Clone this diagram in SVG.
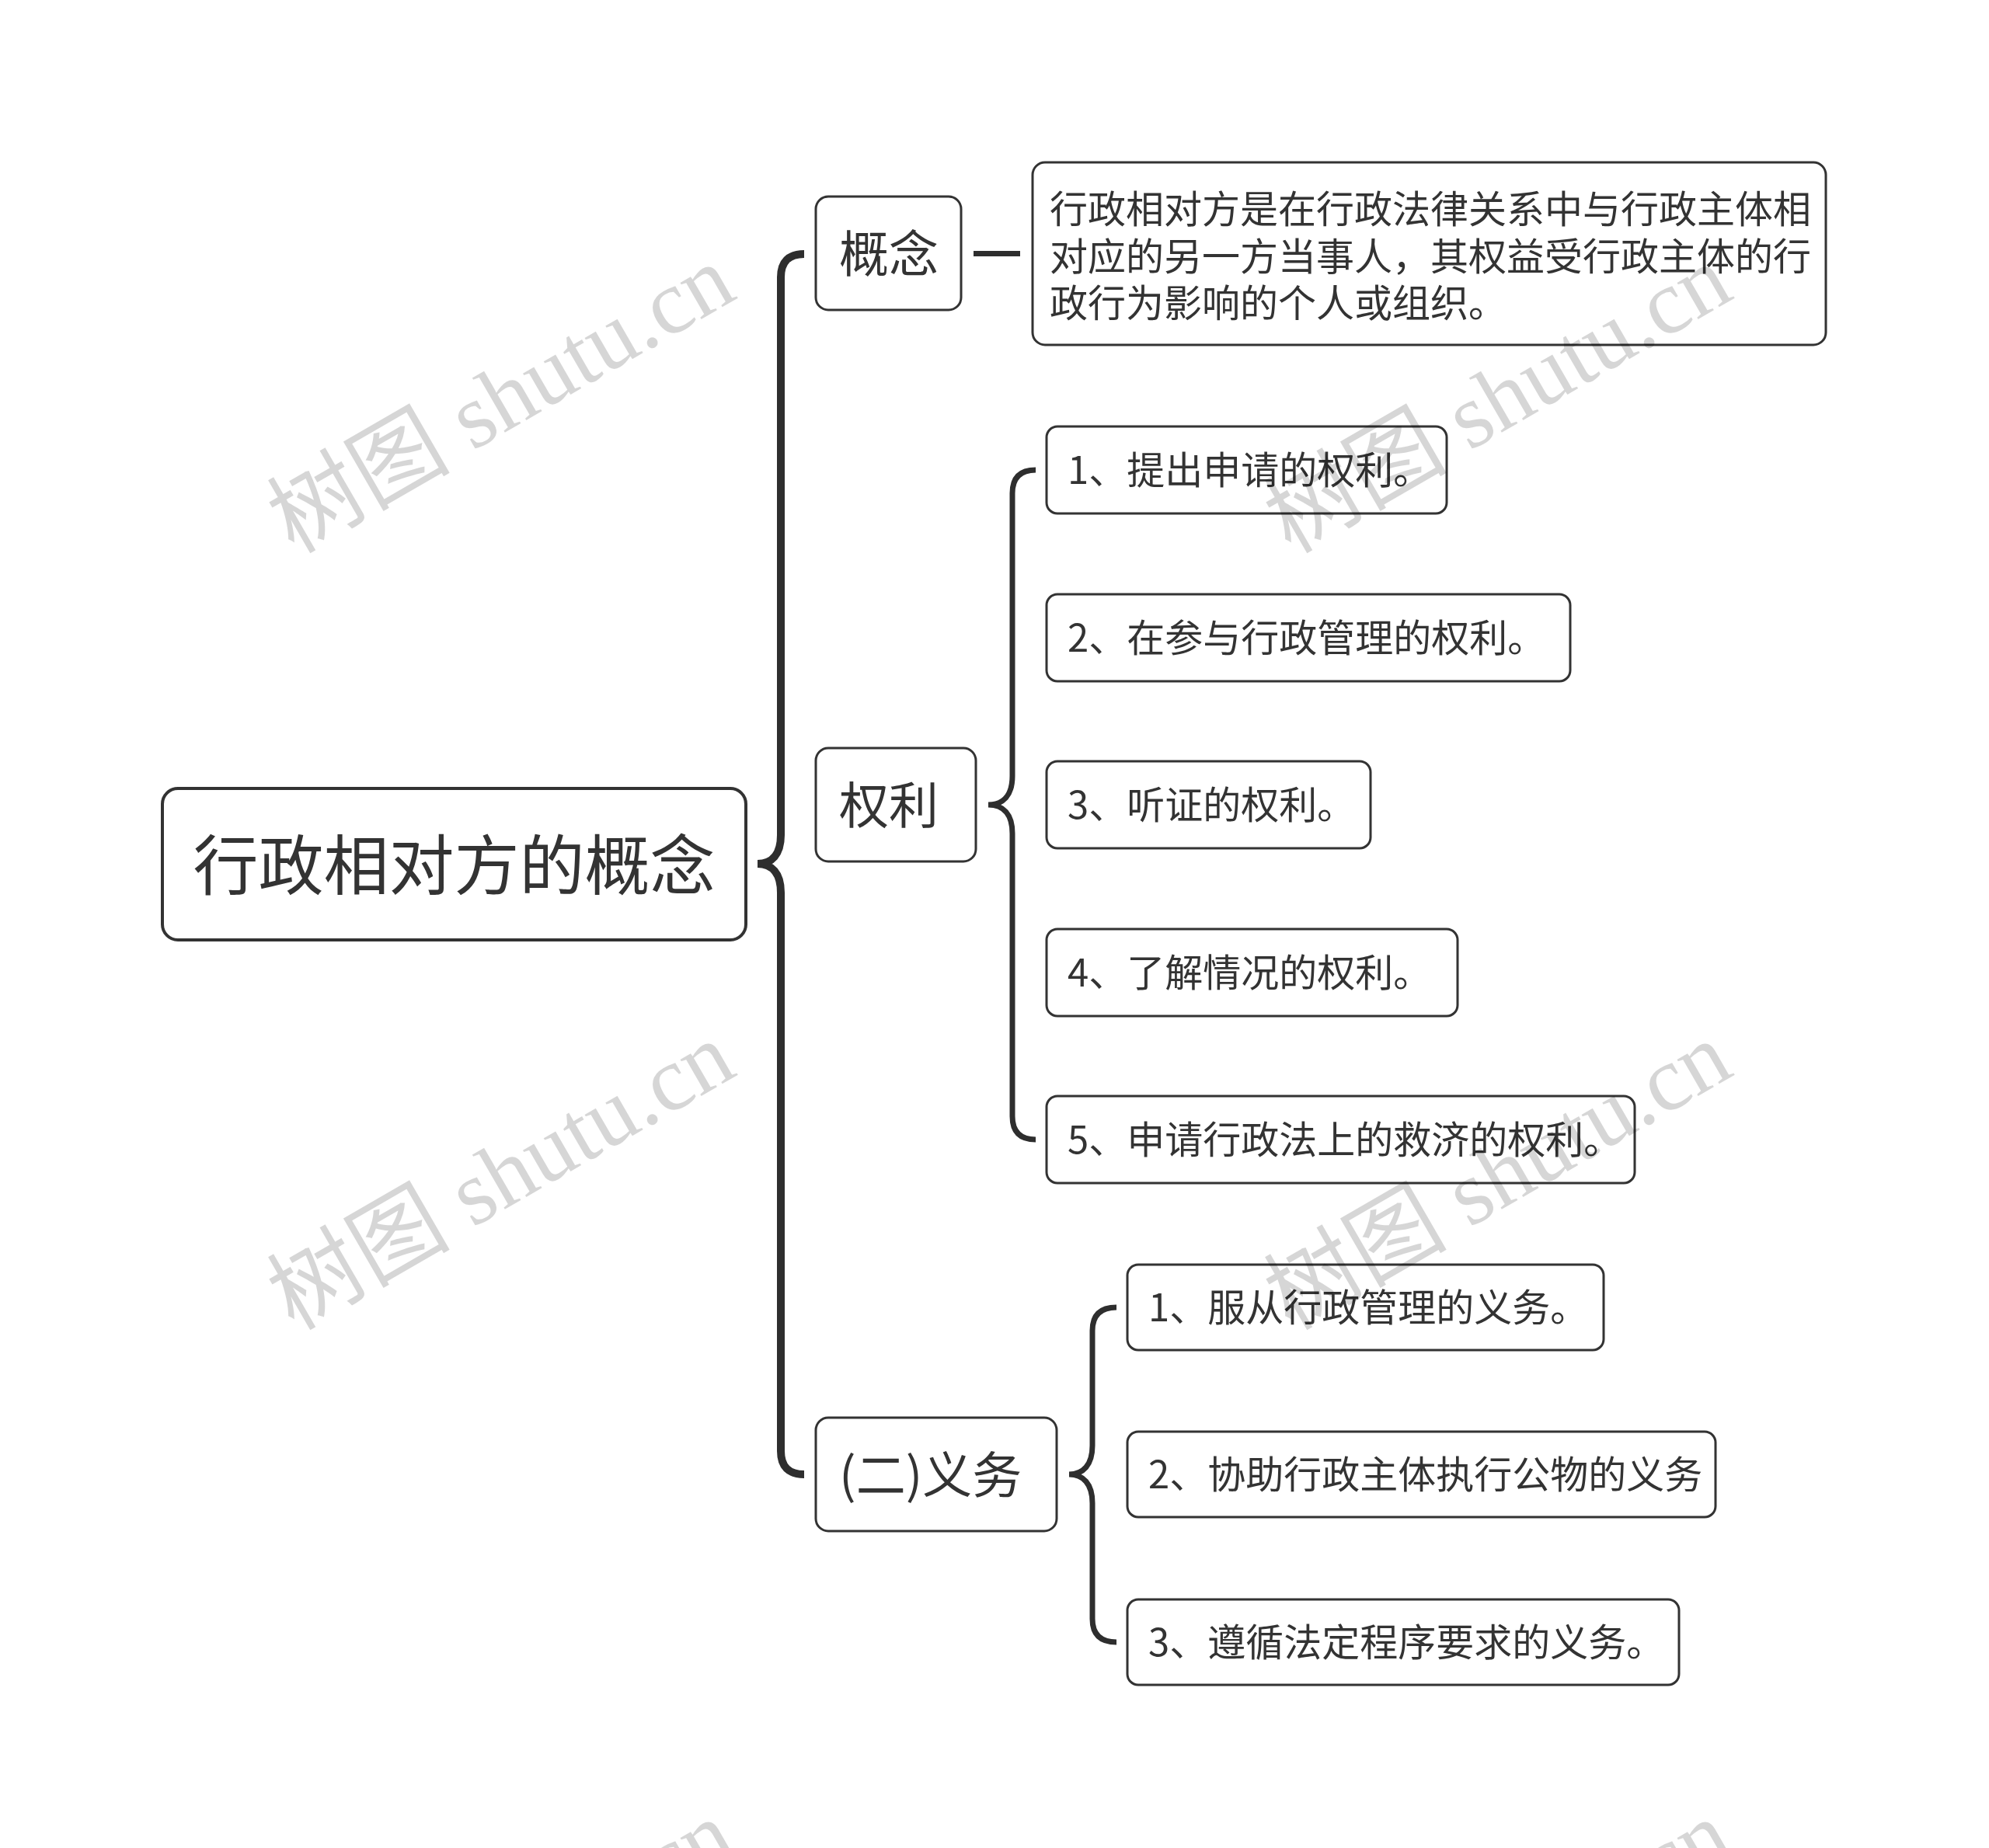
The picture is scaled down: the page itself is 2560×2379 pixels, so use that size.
<svg xmlns="http://www.w3.org/2000/svg" width="2560" height="2379" viewBox="0 0 2560 2379">
<style>
.node rect{fill:#fff;stroke:#333;stroke-width:3}
#root rect{stroke-width:4}
text{font-family:"Noto Sans CJK SC","Noto Sans",sans-serif;fill:#333}
.t-root{font-size:84px}
.t-sub{font-size:64px}
.t-leaf{font-size:49px}
#connectors path,#connectors line{fill:none;stroke:#2e2e2e}
.wm{font-family:"Liberation Serif","Noto Sans CJK SC",serif;font-size:118px;fill:#000;fill-opacity:0.16}
</style>
<rect x="0" y="0" width="2560" height="2379" fill="#fff"/>
<g id="connectors">
<path stroke-width="10" d="M1035,327 Q1005,327 1005,357 L1005,1075 C1005,1100 993,1112 975,1112 C993,1112 1005,1124 1005,1149 L1005,1868 Q1005,1898 1035,1898"/>
<line stroke-width="7" x1="1253" y1="326.5" x2="1313" y2="326.5"/>
<path stroke-width="7" d="M1333,605 Q1303,605 1303,635 L1303,999 C1303,1024 1291,1036 1272,1036 C1291,1036 1303,1048 1303,1073 L1303,1437 Q1303,1467 1333,1467"/>
<path stroke-width="7" d="M1437,1683 Q1406,1683 1406,1713 L1406,1861 C1406,1886 1394,1898 1376,1898 C1394,1898 1406,1910 1406,1935 L1406,2084 Q1406,2114 1437,2114"/>
</g>
<g id="root" class="node"><rect x="209" y="1015" width="751" height="195" rx="20"/><text class="t-root" x="584.5" y="1145" text-anchor="middle">行政相对方的概念</text></g>
<g id="n-gainian" class="node"><rect x="1050" y="253" width="187" height="146" rx="16"/><text class="t-sub" x="1080" y="350">概念</text></g>
<g id="n-desc" class="node"><rect x="1329" y="209" width="1021" height="235" rx="16"/><text class="t-leaf"><tspan x="1351" y="287">行政相对方是在行政法律关系中与行政主体相</tspan><tspan x="1351" y="348">对应的另一方当事人，其权益受行政主体的行</tspan><tspan x="1351" y="408">政行为影响的个人或组织。</tspan></text></g>
<g id="n-quanli" class="node"><rect x="1050" y="963" width="206" height="146" rx="16"/><text class="t-sub" x="1080" y="1060">权利</text></g>
<g id="n-yiwu" class="node"><rect x="1050" y="1825" width="310" height="146" rx="16"/><text class="t-sub" x="1080" y="1922">(二)义务</text></g>
<g id="r1" class="node"><rect x="1347" y="549" width="515" height="112" rx="14"/><text class="t-leaf" x="1374" y="623">1、提出申请的权利。</text></g>
<g id="r2" class="node"><rect x="1347" y="765" width="674" height="112" rx="14"/><text class="t-leaf" x="1374" y="839">2、在参与行政管理的权利。</text></g>
<g id="r3" class="node"><rect x="1347" y="980" width="417" height="112" rx="14"/><text class="t-leaf" x="1374" y="1054">3、听证的权利。</text></g>
<g id="r4" class="node"><rect x="1347" y="1196" width="529" height="112" rx="14"/><text class="t-leaf" x="1374" y="1270">4、了解情况的权利。</text></g>
<g id="r5" class="node"><rect x="1347" y="1411" width="757" height="112" rx="14"/><text class="t-leaf" x="1374" y="1485">5、申请行政法上的救济的权利。</text></g>
<g id="d1" class="node"><rect x="1451" y="1628" width="613" height="110" rx="14"/><text class="t-leaf" x="1478" y="1701">1、服从行政管理的义务。</text></g>
<g id="d2" class="node"><rect x="1451" y="1843" width="757" height="110" rx="14"/><text class="t-leaf" x="1478" y="1916">2、协助行政主体执行公物的义务</text></g>
<g id="d3" class="node"><rect x="1451" y="2059" width="710" height="110" rx="14"/><text class="t-leaf" x="1478" y="2132">3、遵循法定程序要求的义务。</text></g>
<g id="watermarks">
<text class="wm" x="645" y="514" text-anchor="middle" dominant-baseline="central" transform="rotate(-30 645 514)">树图 shutu.cn</text>
<text class="wm" x="1928" y="514" text-anchor="middle" dominant-baseline="central" transform="rotate(-30 1928 514)">树图 shutu.cn</text>
<text class="wm" x="645" y="1514" text-anchor="middle" dominant-baseline="central" transform="rotate(-30 645 1514)">树图 shutu.cn</text>
<text class="wm" x="1928" y="1514" text-anchor="middle" dominant-baseline="central" transform="rotate(-30 1928 1514)">树图 shutu.cn</text>
<text class="wm" x="645" y="2516" text-anchor="middle" dominant-baseline="central" transform="rotate(-30 645 2516)">树图 shutu.cn</text>
<text class="wm" x="1928" y="2516" text-anchor="middle" dominant-baseline="central" transform="rotate(-30 1928 2516)">树图 shutu.cn</text>
</g>
</svg>
